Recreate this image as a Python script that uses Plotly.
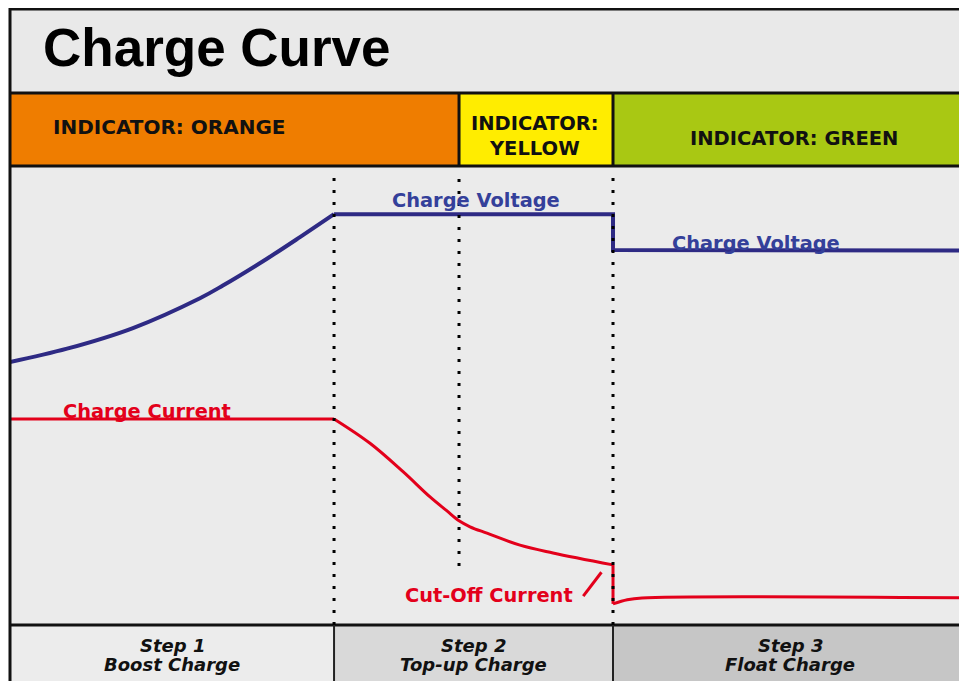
import plotly.graph_objects as go

# page has an 8px body margin: the figure is drawn at (8, 8) in the window
OFF = 8
W, H = 967 - OFF, 681 - OFF

# ---------------- data (time in % of cycle, level in % of plot height) ----------------
volt_boost_t = [0.0, 5.96, 12.85, 19.85, 22.2, 26.85, 30.30, 33.86]
volt_boost_v = [57.3, 60.2, 64.7, 71.2, 73.9, 79.8, 84.5, 89.5]
volt_hold_t = [33.86, 63.01, 63.01, 100.0]
volt_hold_v = [89.5, 89.5, 81.7, 81.6]

curr_const_t = [0.0, 33.86]
curr_const_v = [44.9, 44.9]
curr_taper_t = [33.86, 37.62, 41.07, 43.89, 45.63, 46.92, 48.07, 49.84, 53.29, 56.74, 63.01]
curr_taper_v = [44.9, 39.6, 33.4, 27.9, 24.9, 22.7, 21.4, 20.0, 17.4, 15.7, 13.1]
curr_drop_t = [63.01, 63.01]
curr_drop_v = [13.1, 4.6]
curr_float_t = [63.01, 64.5, 66.04, 100.0]
curr_float_v = [4.6, 5.5, 5.9, 5.9]

phase_bounds = [33.86, 46.92, 63.01]        # step 1 end | indicator change | step 2 end
indicator_labels = ["INDICATOR: ORANGE", "INDICATOR:<br>YELLOW", "INDICATOR: GREEN"]
indicator_colors = ["#ef7d00", "#ffed00", "#a9c813"]
step_titles = ["Step 1", "Step 2", "Step 3"]
step_names = ["Boost Charge", "Top-up Charge", "Float Charge"]
step_colors = ["#ececec", "#d9d9d9", "#c6c6c6"]

VOLT_LINE = "#2e2a84"
VOLT_TEXT = "#34409a"
CURR = "#e3001b"
FONT = "DejaVu Sans"

# ---------------- layout geometry (window pixels) ----------------
X0, X_END = 10, 967
Y_TOP, Y_IND, Y_PLOT, Y_BOT = 9, 93, 166, 625


def px(x):
    return (x - OFF) / W


def py(y):
    return 1 - (y - OFF) / H


def t_to_px(t):
    return X0 + t / 100 * (X_END - X0)


fig = go.Figure()


def add_line(t, v, color, width, shape="linear"):
    fig.add_trace(go.Scatter(x=t, y=v, mode="lines", line=dict(color=color, width=width, shape=shape),
                             hoverinfo="skip", showlegend=False, cliponaxis=False))


add_line(volt_boost_t, volt_boost_v, VOLT_LINE, 4, "spline")
add_line(volt_hold_t, volt_hold_v, VOLT_LINE, 4)
add_line(curr_const_t, curr_const_v, CURR, 3)
add_line(curr_taper_t, curr_taper_v, CURR, 3, "spline")
add_line(curr_drop_t, curr_drop_v, CURR, 3)
add_line(curr_float_t, curr_float_v, CURR, 3, "spline")

shapes = []
# backgrounds
shapes.append(dict(type="rect", xref="paper", yref="paper", x0=px(X0), x1=1.02, y0=py(Y_IND), y1=py(Y_TOP),
                   fillcolor="#e9e9e9", line_width=0, layer="below"))
shapes.append(dict(type="rect", xref="paper", yref="paper", x0=px(X0), x1=1.02, y0=py(Y_BOT), y1=py(Y_PLOT),
                   fillcolor="#ebebeb", line_width=0, layer="below"))
ind_edges = [X0, t_to_px(phase_bounds[1]), t_to_px(phase_bounds[2]), X_END + 20]
for i, c in enumerate(indicator_colors):
    shapes.append(dict(type="rect", xref="paper", yref="paper", x0=px(ind_edges[i]), x1=px(ind_edges[i + 1]),
                       y0=py(Y_PLOT), y1=py(Y_IND), fillcolor=c, line_width=0, layer="below"))
step_edges = [X0, t_to_px(phase_bounds[0]), t_to_px(phase_bounds[2]), X_END + 20]
for i, c in enumerate(step_colors):
    shapes.append(dict(type="rect", xref="paper", yref="paper", x0=px(step_edges[i]), x1=px(step_edges[i + 1]),
                       y0=-0.05, y1=py(Y_BOT), fillcolor=c, line_width=0, layer="below"))

# frame lines
for y in [Y_TOP, Y_IND, Y_PLOT, Y_BOT]:
    shapes.append(dict(type="line", xref="paper", yref="paper", x0=px(X0 - 1), x1=1.02, y0=py(y), y1=py(y),
                       line=dict(color="#111111", width=3), layer="above"))
shapes.append(dict(type="line", xref="paper", yref="paper", x0=px(X0), x1=px(X0), y0=-0.05, y1=py(Y_TOP - 1),
                   line=dict(color="#111111", width=3), layer="above"))
for e in ind_edges[1:3]:
    shapes.append(dict(type="line", xref="paper", yref="paper", x0=px(e), x1=px(e), y0=py(Y_PLOT), y1=py(Y_IND),
                       line=dict(color="#111111", width=3), layer="above"))
for e in step_edges[1:3]:
    shapes.append(dict(type="line", xref="paper", yref="paper", x0=px(e), x1=px(e), y0=-0.05, y1=py(Y_BOT),
                       line=dict(color="#222222", width=2), layer="above"))

# dotted phase lines
dot_ends = [Y_BOT, 566, Y_BOT]
for b, ye in zip(phase_bounds, dot_ends):
    shapes.append(dict(type="line", xref="x", yref="paper", x0=b, x1=b, y0=py(ye), y1=py(Y_PLOT + 4),
                       line=dict(color="#000000", width=3, dash="3px,9px"), layer="above"))

# cut-off pointer
shapes.append(dict(type="line", xref="x", yref="y", x0=59.9, x1=61.8, y0=6.3, y1=11.5,
                   line=dict(color=CURR, width=3), layer="above"))

ann = []
ann.append(dict(text="Charge Curve", xref="paper", yref="paper", x=px(41), y=py(47), xanchor="left",
                yanchor="middle", showarrow=False,
                font=dict(family="Liberation Sans", size=53, color="#000000", weight="bold")))
ind_pos = [(51, 127, "left"), (535, 136, "center"), (794, 138, "center")]
ind_size = [20, 19.5, 19.5]
for txt, (x, y, xa), sz in zip(indicator_labels, ind_pos, ind_size):
    ann.append(dict(text=txt, xref="paper", yref="paper", x=px(x), y=py(y), xanchor=xa, yanchor="middle",
                    showarrow=False, align="center",
                    font=dict(family=FONT, size=sz, color="#111111", weight="bold")))
step_centers = [(step_edges[i] + min(step_edges[i + 1], X_END)) / 2 for i in range(3)]
step_font = dict(family=FONT, size=18, color="#111111", weight="bold", style="italic")
for t1, t2, cx in zip(step_titles, step_names, step_centers):
    ann.append(dict(text=t1, xref="paper", yref="paper", x=px(cx), y=py(645), xanchor="center",
                    yanchor="middle", showarrow=False, font=step_font))
    ann.append(dict(text=t2, xref="paper", yref="paper", x=px(cx), y=py(664), xanchor="center",
                    yanchor="middle", showarrow=False, font=step_font))

lab = dict(family=FONT, size=19.4, weight="bold")
ann.append(dict(text="Charge Voltage", x=48.7, y=92.4, xref="x", yref="y", showarrow=False,
                xanchor="center", yanchor="middle", font=dict(lab, color=VOLT_TEXT)))
ann.append(dict(text="Charge Voltage", x=77.9, y=83.2, xref="x", yref="y", showarrow=False,
                xanchor="center", yanchor="middle", font=dict(lab, color=VOLT_TEXT)))
ann.append(dict(text="Charge Current", x=5.3, y=46.6, xref="x", yref="y", showarrow=False,
                xanchor="left", yanchor="middle", font=dict(lab, color=CURR)))
ann.append(dict(text="Cut-Off Current", x=59.0, y=6.5, xref="x", yref="y", showarrow=False,
                xanchor="right", yanchor="middle", font=dict(lab, color=CURR)))

fig.update_layout(
    width=W, height=H, margin=dict(l=0, r=0, t=0, b=0),
    paper_bgcolor="#ffffff", plot_bgcolor="rgba(0,0,0,0)",
    xaxis=dict(domain=[px(X0), px(X_END)], range=[0, 100], visible=False, fixedrange=True),
    yaxis=dict(domain=[py(Y_BOT), py(Y_PLOT)], range=[0, 100], visible=False, fixedrange=True),
    shapes=shapes, annotations=ann, showlegend=False,
)

fig.write_html("out.html")
